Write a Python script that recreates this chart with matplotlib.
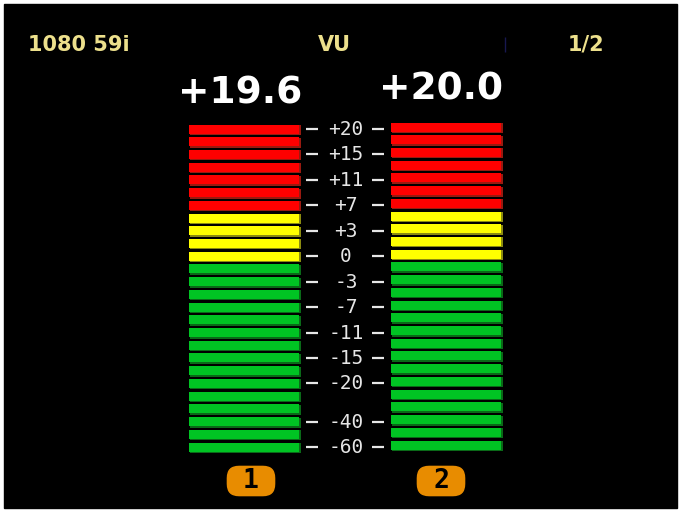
import matplotlib
matplotlib.use("Agg")
import matplotlib.pyplot as plt
from matplotlib.patches import Rectangle, FancyBboxPatch

# ---- data ----
header_left = "1080 59i"
header_mid = "VU"
header_right = "1/2"
channels = ["1", "2"]
peak_values = [19.6, 20.0]
lit_segments = [26, 26]
zone_names = ["red", "yellow", "green"]
zone_counts = [7, 4, 15]
scale_labels = ["+20", "+15", "+11", "+7", "+3", "0", "-3", "-7", "-11", "-15", "-20", "-40", "-60"]
scale_segment = [1, 3, 5, 7, 9, 11, 13, 15, 17, 19, 21, 24, 26]

# ---- style ----
zone_fill = {"red": "#FF0000", "yellow": "#FFFF00", "green": "#00C423"}
zone_shade = {"red": "#9A1A10", "yellow": "#8C8C10", "green": "#0A6A18"}
hdr_color = "#EDE08C"
W, H = 681, 512

fig = plt.figure(figsize=(W / 100, H / 100), dpi=100, facecolor="white")
ax = fig.add_axes([0, 0, 1, 1])
ax.set_xlim(0, W)
ax.set_ylim(H, 0)
ax.axis("off")
ax.add_patch(Rectangle((4, 4), 673, 504, color="black", zorder=0))

# headers
ax.text(28, 45, header_left, color=hdr_color, fontsize=15, fontweight="bold",
        ha="left", va="center", family="DejaVu Sans")
ax.text(334, 45, header_mid, color=hdr_color, fontsize=15, fontweight="bold",
        ha="center", va="center", family="DejaVu Sans")
ax.text(586, 45, header_right, color=hdr_color, fontsize=15, fontweight="bold",
        ha="center", va="center", family="DejaVu Sans")
ax.vlines(505, 37, 52, color="#181850", lw=1)

# meters
seg_colors = []
for name, n in zip(zone_names, zone_counts):
    seg_colors += [name] * n
n_seg = len(seg_colors)
pitch = 12.72
meter_left = [189, 391]
meter_top = [129, 127]
meter_w = 111
seg_h = 10
peak_x = [240, 441]
peak_y = [94, 90]
badge_cx = [251, 441]

for ci, ch in enumerate(channels):
    ys = [meter_top[ci] + pitch * i for i in range(n_seg)]
    n_lit = lit_segments[ci]
    lit_idx = list(range(n_seg - n_lit, n_seg))
    y_l = [ys[i] for i in lit_idx]
    fills = [zone_fill[seg_colors[i]] for i in lit_idx]
    shades = [zone_shade[seg_colors[i]] for i in lit_idx]
    ax.barh([y + 1 for y in y_l], meter_w, left=meter_left[ci] + 1, height=seg_h,
            color=shades, zorder=2)
    ax.barh(y_l, meter_w - 1, left=meter_left[ci], height=seg_h - 1,
            color=fills, zorder=3)
    # peak value
    ax.text(peak_x[ci], peak_y[ci], f"+{peak_values[ci]:.1f}",
            color="white", fontsize=27, fontweight="bold", ha="center", va="center",
            family="DejaVu Sans")
    # badge
    bx = badge_cx[ci]
    ax.add_patch(FancyBboxPatch((bx - 21, 469), 42, 24,
                                boxstyle="round,pad=4,rounding_size=13",
                                fc="#E88C00", ec="black", lw=1, zorder=3))
    ax.text(bx, 481.5, ch, color="black", fontsize=19, fontweight="bold",
            ha="center", va="center", family="DejaVu Sans Mono", zorder=4)

# scale
for lab, seg in zip(scale_labels, scale_segment):
    y = meter_top[0] + pitch * (seg - 1)
    ax.hlines(y, 306, 318, color="#E6E6E6", lw=1.6)
    ax.hlines(y, 372, 384, color="#E6E6E6", lw=1.6)
    ax.text(346, y + 0.5, lab, color="#E6E6E6", fontsize=14, ha="center", va="center",
            family="DejaVu Sans Mono")

fig.savefig("out.png", dpi=100, facecolor="white")
